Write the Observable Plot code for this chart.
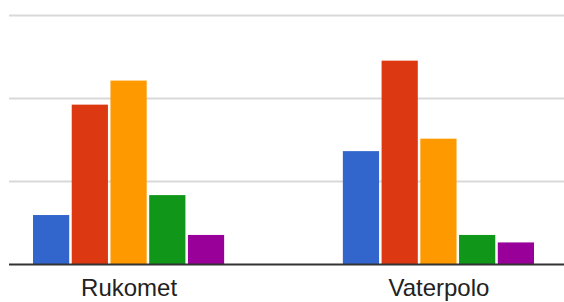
<!DOCTYPE html>
<html>
<head>
<meta charset="utf-8">
<script src="https://cdn.jsdelivr.net/npm/d3@7"></script>
<script src="https://cdn.jsdelivr.net/npm/@observablehq/plot@0.6"></script>
<style>
  html, body { margin: 0; padding: 0; background: #fff; }
  #chart svg { display: block; }
</style>
</head>
<body>
<div id="chart"></div>
<script>
const groups = ["Rukomet", "Vaterpolo"];
const series = ["Serija 1", "Serija 2", "Serija 3", "Serija 4", "Serija 5"];
const rukometValues = [5.9, 19.2, 22.1, 8.3, 3.5];
const vaterpoloValues = [13.6, 24.5, 15.1, 3.5, 2.6];
const gridTicks = [10, 20, 30];
const colors = ["#3366cc", "#dc3912", "#ff9900", "#109618", "#990099"];

const valuesByGroup = {Rukomet: rukometValues, Vaterpolo: vaterpoloValues};
const key = (g, s) => g + "|" + s;
const data = groups.flatMap(g => series.map((s, i) => ({group: g, series: s, key: key(g, s), value: valuesByGroup[g][i]})));

// band domain: bars of each group, with empty bands separating the groups
const spacers = ["·1", "·2", "·3"];
const xDomain = [
  ...series.map(s => key(groups[0], s)),
  ...spacers,
  ...series.map(s => key(groups[1], s))
];

const chart = Plot.plot({
  width: 564,
  height: 302,
  marginLeft: 9,
  marginRight: 0,
  marginTop: 15,
  marginBottom: 38,
  style: {fontFamily: "Arial, 'Liberation Sans', sans-serif", background: "#fff"},
  x: {domain: xDomain, range: [33, 534], paddingInner: 0.065, paddingOuter: 0, round: false, axis: null},
  y: {domain: [0, 30], axis: null},
  color: {domain: series, range: colors},
  marks: [
    Plot.ruleY(gridTicks, {stroke: "#d9d9d9", strokeWidth: 2}),
    Plot.barY(data, {x: "key", y: "value", fill: "series"}),
    Plot.ruleY([0], {stroke: "#333", strokeWidth: 2}),
    Plot.text(groups, {x: g => key(g, series[2]), text: d => d, frameAnchor: "bottom", dy: 31, fontSize: 24, fill: "#222"})
  ]
});
document.getElementById("chart").appendChild(chart);
</script>
</body>
</html>
